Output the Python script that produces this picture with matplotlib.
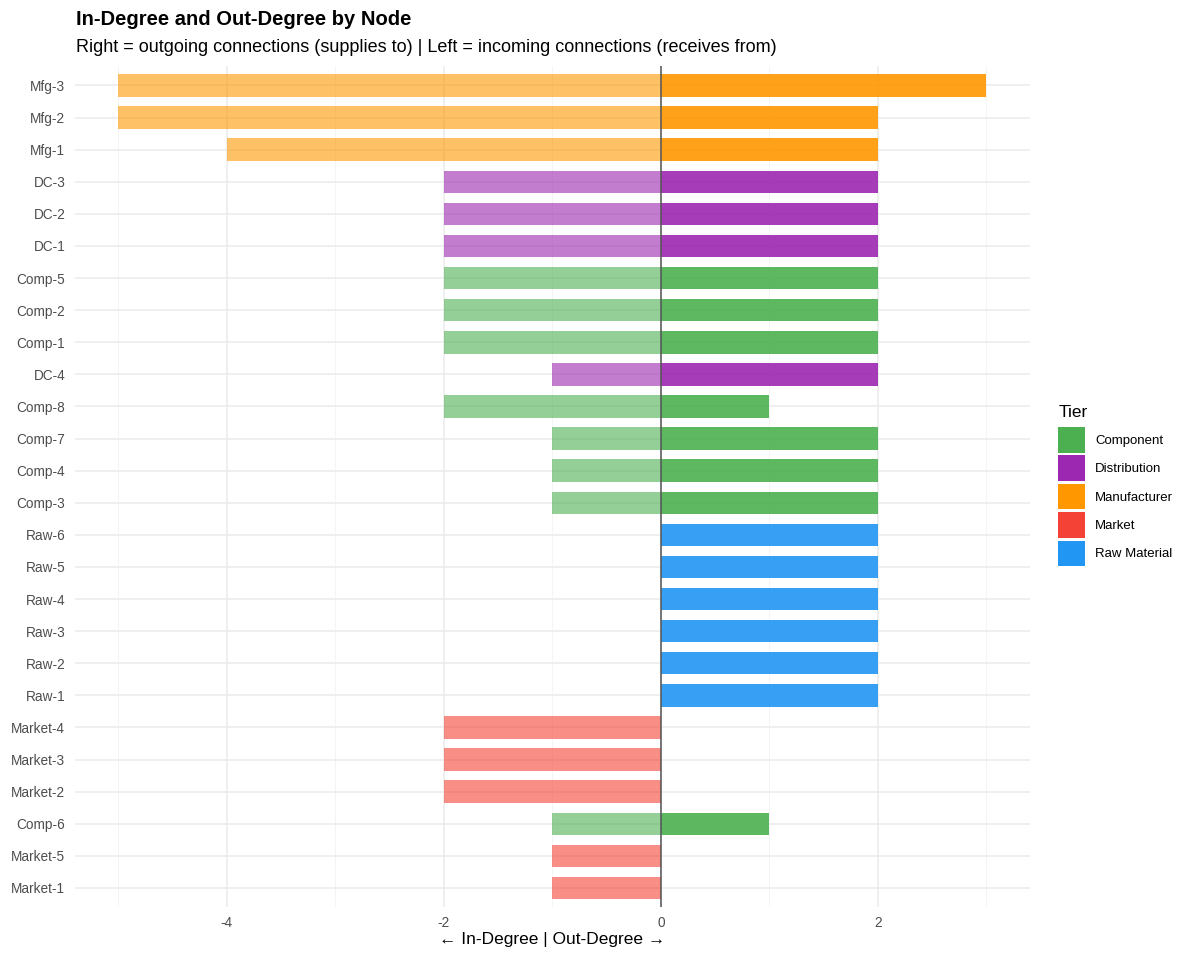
import matplotlib.pyplot as plt
from matplotlib.patches import Patch
from matplotlib.ticker import MultipleLocator

plt.rcParams["font.family"] = ["Liberation Sans", "DejaVu Sans"]
plt.rcParams["axes.unicode_minus"] = False

# nodes from top to bottom
nodes = ["Mfg-3", "Mfg-2", "Mfg-1", "DC-3", "DC-2", "DC-1", "Comp-5", "Comp-2",
         "Comp-1", "DC-4", "Comp-8", "Comp-7", "Comp-4", "Comp-3", "Raw-6",
         "Raw-5", "Raw-4", "Raw-3", "Raw-2", "Raw-1", "Market-4", "Market-3",
         "Market-2", "Comp-6", "Market-5", "Market-1"]
tiers = ["Manufacturer", "Manufacturer", "Manufacturer", "Distribution",
         "Distribution", "Distribution", "Component", "Component", "Component",
         "Distribution", "Component", "Component", "Component", "Component",
         "Raw Material", "Raw Material", "Raw Material", "Raw Material",
         "Raw Material", "Raw Material", "Market", "Market", "Market",
         "Component", "Market", "Market"]
in_degree = [5, 5, 4, 2, 2, 2, 2, 2, 2, 1, 2, 1, 1, 1, 0, 0, 0, 0, 0, 0,
             2, 2, 2, 1, 1, 1]
out_degree = [3, 2, 2, 2, 2, 2, 2, 2, 2, 2, 1, 2, 2, 2, 2, 2, 2, 2, 2, 2,
              0, 0, 0, 1, 0, 0]

tier_names = ["Component", "Distribution", "Manufacturer", "Market", "Raw Material"]
tier_colors = {
    "Component": "#4CAF50",
    "Distribution": "#9C27B0",
    "Manufacturer": "#FF9800",
    "Market": "#F44336",
    "Raw Material": "#2196F3",
}

fig = plt.figure(figsize=(12, 9.6), dpi=100)
ax = fig.add_axes([0.0625, 0.055, 0.7955, 0.876])

n = len(nodes)
ypos = [n - 1 - i for i in range(n)]
cols = [tier_colors[t] for t in tiers]

ax.barh(ypos, [-v for v in in_degree], height=0.7, color=cols, alpha=0.6, zorder=3)
ax.barh(ypos, out_degree, height=0.7, color=cols, alpha=0.9, zorder=3)
ax.axvline(0, color="#555555", lw=1.1, zorder=4)

ax.set_xlim(-5.4, 3.4)
ax.set_ylim(-0.6, n - 0.4)
ax.set_yticks(ypos)
ax.set_yticklabels(nodes)
ax.xaxis.set_major_locator(MultipleLocator(2))
ax.xaxis.set_minor_locator(MultipleLocator(1))
ax.grid(which="major", axis="both", color="#EBEBEB", lw=1.1, zorder=0)
ax.grid(which="minor", axis="x", color="#F3F3F3", lw=0.6, zorder=0)
ax.tick_params(which="both", length=0, labelsize=9.8, labelcolor="#4D4D4D")
ax.tick_params(axis="y", pad=7)
ax.tick_params(axis="x", pad=6)
for s in ax.spines.values():
    s.set_visible(False)

ax.set_xlabel("← In-Degree | Out-Degree →", fontsize=12.5, labelpad=2)
fig.text(0.063, 0.980, "In-Degree and Out-Degree by Node", fontsize=14.5,
         fontweight="bold", va="center")
fig.text(0.063, 0.951, "Right = outgoing connections (supplies to) | Left = incoming connections (receives from)",
         fontsize=13, va="center")

handles = [Patch(facecolor=tier_colors[t], label=t) for t in tier_names]
leg = fig.legend(handles=handles, title="Tier", loc="center left",
                 bbox_to_anchor=(0.872, 0.492), frameon=False, fontsize=9.5,
                 title_fontsize=12.5, handlelength=2.0, handleheight=2.6,
                 labelspacing=0.22, alignment="left")
leg.get_title().set_position((0, 4))

fig.savefig("out.png", dpi=100, facecolor="white")
